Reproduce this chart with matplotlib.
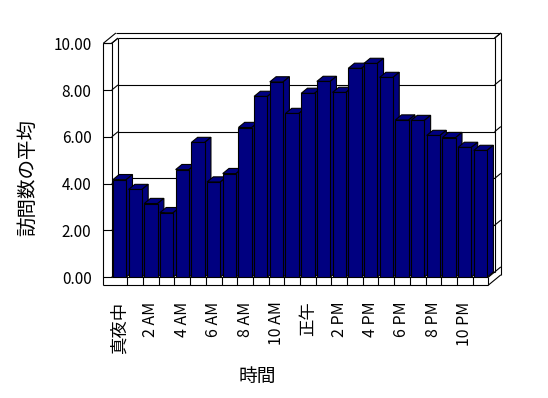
import numpy as np
import matplotlib
matplotlib.use("Agg")
import matplotlib.pyplot as plt

plt.rcParams['font.family'] = ['Noto Sans CJK JP', 'DejaVu Sans']

# 時間ごとの訪問数の平均 (0時〜23時)
horas = list(range(24))
visitas = [4.17, 3.75, 3.15, 2.76, 4.60, 5.76, 4.07, 4.43, 6.40, 7.73, 8.35, 7.00,
           7.86, 8.37, 7.90, 8.93, 9.14, 8.54, 6.72, 6.70, 6.06, 5.97, 5.55, 5.42]
rotulos_x = ['真夜中', '2 AM', '4 AM', '6 AM', '8 AM', '10 AM',
             '正午', '2 PM', '4 PM', '6 PM', '8 PM', '10 PM']
ticks_y = [0, 2, 4, 6, 8, 10]

NAVY = '#000080'
LW = 0.8
# profundidade 3D em unidades de dados
DX, DY = 0.40, 0.22
WL, FB = 0.535, 0.34   # espessura da parede esquerda e do piso

fig = plt.figure(figsize=(5.48, 3.98), dpi=100)
ax = fig.add_axes([111.7 / 548, 1 - 277.2 / 398, 376.6 / 548, 233.9 / 398])
x0, x1 = -0.5, len(horas) - 0.5
ax.set_xlim(x0, x1)
ax.set_ylim(0, 10)
for s in ax.spines.values():
    s.set_visible(False)


def p(x, y, d):
    return (x + d * DX, y + d * DY)


def linha(a, b, z=1):
    ax.plot([a[0], b[0]], [a[1], b[1]], color='black', lw=LW, clip_on=False,
            zorder=z, solid_capstyle='butt')


xo, yb = x0 - WL, -FB

# parede esquerda e parede do fundo
linha(p(xo, yb, 0), p(xo, 10, 0))
linha(p(x0, 0, 0), p(x0, 10, 0))
linha(p(xo, 10, 0), p(x0, 10, 0))
linha(p(xo, 10, 0), p(xo, 10, 2))
linha(p(x0, 10, 0), p(x0, 10, 1))
linha(p(x0, 0, 1), p(x0, 10, 1))
linha(p(xo, 10, 2), p(x1, 10, 2))
linha(p(x1, 10, 1), p(x1, 10, 2))
linha(p(x1, 0, 1), p(x1, 10, 1))
linha(p(x1, yb, 2), p(x1, 10, 2))

# grade
for t in ticks_y:
    linha(p(xo, t, 0), p(x0, t, 0))
    linha(p(x0, t, 0), p(x0, t, 1))
    linha(p(x0, t, 1), p(x1, t, 1))
    linha(p(x1, t, 1), p(x1, t, 2))

# piso
linha(p(xo, yb, 0), p(x1, yb, 0))
linha(p(x0, 0, 0), p(x1, 0, 0))
linha(p(x1, yb, 0), p(x1, 0, 0))
linha(p(x1, yb, 0), p(x1, yb, 2))
linha(p(x1, 0, 0), p(x1, 0, 1))
for k in horas[:-1]:
    linha(p(k + 0.5, yb, 0), p(k + 0.5, 0, 0))

# barras: frente com ax.bar, topo e lateral com ax.fill
w = 0.85
bars = ax.bar(horas, visitas, width=w, color=NAVY, edgecolor='black', linewidth=LW)
for i, (h, v) in enumerate(zip(horas, visitas)):
    xl, xr = h - w / 2, h + w / 2
    topo = [p(xl, v, 0), p(xr, v, 0), p(xr, v, 1), p(xl, v, 1)]
    lado = [p(xr, 0, 0), p(xr, v, 0), p(xr, v, 1), p(xr, 0, 1)]
    for poly in (topo, lado):
        xs, ys = zip(*poly)
        ax.fill(xs, ys, facecolor=NAVY, edgecolor='black', linewidth=LW,
                zorder=10 + i, clip_on=False)
    bars[i].set_zorder(10 + i + 0.5)

ax.set_yticks(ticks_y)
ax.set_yticklabels([f'{t:.2f}' for t in ticks_y], fontsize=11)
ax.set_xticks(horas[::2])
ax.set_xticklabels(rotulos_x, rotation=90)
for lab in ax.get_xticklabels():
    lab.set_fontsize(12.5 if lab.get_text() in ('真夜中', '正午') else 11.5)
ax.tick_params(axis='y', length=0, pad=14.5)
ax.tick_params(axis='x', length=0, pad=17.5)

fig.text(257.5 / 548, 1 - 376.7 / 398, '時間', fontsize=13.5, ha='center', va='center')
fig.text(28 / 548, 1 - 177 / 398, '訪問数の平均', fontsize=14, rotation=90,
         ha='center', va='center')

fig.savefig('out.png', dpi=100)
